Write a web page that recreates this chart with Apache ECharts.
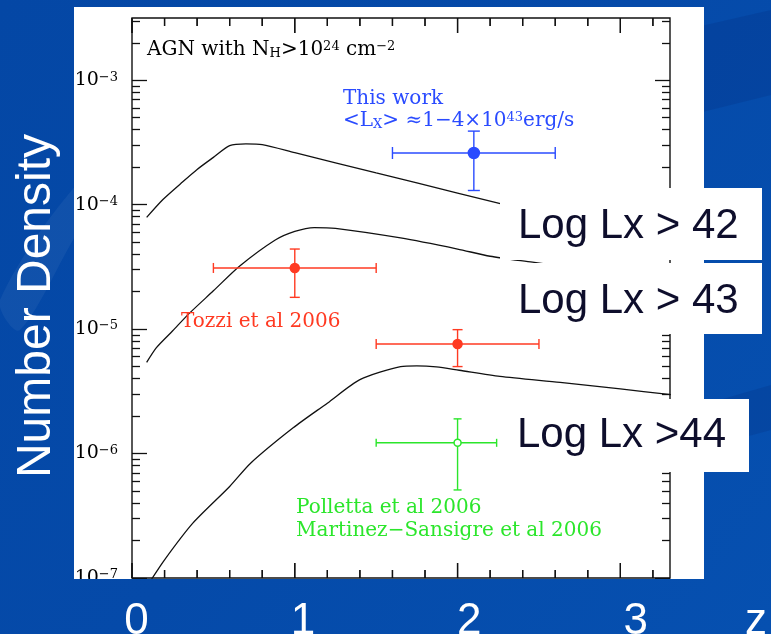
<!DOCTYPE html>
<html>
<head>
<meta charset="utf-8">
<title>AGN with NH &gt; 10^24 cm^-2 — number density vs redshift</title>
<script src="https://cdn.jsdelivr.net/npm/echarts@6/dist/echarts.min.js"></script>
<style>
  html, body { margin: 0; padding: 0; background: #0548a6; }
  #chart { width: 771px; height: 634px; }
</style>
</head>
<body>
<div id="chart"></div>
<script>
// ---- Model curves: space density of Compton-thick AGN against redshift ----
const curve42Z = [0.09, 0.19, 0.30, 0.40, 0.50, 0.60, 0.70, 0.80, 1.00, 1.50, 2.00, 2.50, 3.00, 3.31];
const curve42N = [7.9e-5, 1.10e-4, 1.48e-4, 1.92e-4, 2.40e-4, 2.98e-4, 3.08e-4, 3.04e-4, 2.62e-4, 1.80e-4, 1.24e-4, 8.5e-5, 5.8e-5, 4.6e-5];

const curve43Z = [0.09, 0.15, 0.25, 0.355, 0.50, 0.66, 0.88, 1.00, 1.12, 1.25, 1.65, 2.00, 2.20, 2.46, 3.00, 3.31];
const curve43N = [5.4e-6, 7.1e-6, 9.7e-6, 1.35e-5, 2.03e-5, 3.2e-5, 5.2e-5, 6.1e-5, 6.55e-5, 6.45e-5, 5.4e-5, 4.4e-5, 3.85e-5, 3.45e-5, 2.75e-5, 2.4e-5];

const curve44Z = [0.10, 0.20, 0.375, 0.60, 0.73, 0.99, 1.20, 1.40, 1.65, 1.75, 1.87, 2.01, 2.26, 2.63, 3.00, 3.31];
const curve44N = [8.9e-8, 1.40e-7, 2.77e-7, 5.44e-7, 8.4e-7, 1.61e-6, 2.54e-6, 3.93e-6, 5.0e-6, 5.07e-6, 4.97e-6, 4.67e-6, 4.17e-6, 3.73e-6, 3.31e-6, 2.97e-6];

// ---- Measurements: [z, density, zLow, zHigh, densityLow, densityHigh] ----
const thisWork  = [[2.10, 2.6e-4, 1.60, 2.60, 1.3e-4, 3.9e-4]];
const tozzi2006 = [[1.00, 3.1e-5, 0.50, 1.50, 1.8e-5, 4.4e-5],
                   [2.00, 7.6e-6, 1.50, 2.50, 5.0e-6, 9.9e-6]];
const polletta2006 = [[2.00, 1.22e-6, 1.50, 2.24, 5.1e-7, 1.9e-6]];

// ---- Axes ----
const zMin = 0, zMax = 3.305;
const nMin = 1e-7, nMax = Math.pow(10, -2.5);
const zMajorTicks = [0, 1, 2, 3];
const zMinorTicks = [0.2, 0.4, 0.6, 0.8, 1.2, 1.4, 1.6, 1.8, 2.2, 2.4, 2.6, 2.8, 3.2];
const nDecades = [-7, -6, -5, -4, -3];
const nMinorMultipliers = [2, 3, 4, 5, 6, 7, 8, 9];
const zSlideLabels = ['0', '1', '2', '3'];
const lxLabels = ['Log Lx > 42', 'Log Lx > 43', 'Log Lx >44'];

const BLUE = '#2a4bff', RED = '#ff3a22', GREEN = '#2be62b', INK = '#111';
const SERIF = "'DejaVu Serif', serif";
const SANS = "'Liberation Sans', Arial, sans-serif";

// density tick positions, expressed as log10 for the tick-only axes
const logMin = Math.log10(nMin), logMax = Math.log10(nMax);
const nMajorLog = nDecades.slice();
const nMinorLog = [];
nDecades.concat([-2]).forEach(d => nMinorMultipliers.forEach(k => {
  const v = Math.log10(k) + d;
  if (v > logMin && v < logMax) nMinorLog.push(v);
}));

function errorBarRenderer(color, filled, radius, cap) {
  return function (params, api) {
    const c = api.coord([api.value(0), api.value(1)]);
    const xl = api.coord([api.value(2), api.value(1)])[0];
    const xr = api.coord([api.value(3), api.value(1)])[0];
    const yb = api.coord([api.value(0), api.value(4)])[1];
    const yt = api.coord([api.value(0), api.value(5)])[1];
    const st = { stroke: color, lineWidth: 1.4 };
    const seg = (x1, y1, x2, y2) => ({ type: 'line', shape: { x1, y1, x2, y2 }, style: st });
    return { type: 'group', children: [
      seg(xl, c[1], xr, c[1]),
      seg(c[0], yt, c[0], yb),
      seg(xl, c[1] - cap, xl, c[1] + cap),
      seg(xr, c[1] - cap, xr, c[1] + cap),
      seg(c[0] - cap, yt, c[0] + cap, yt),
      seg(c[0] - cap, yb, c[0] + cap, yb),
      { type: 'circle', shape: { cx: c[0], cy: c[1], r: radius },
        style: { fill: filled ? color : '#fff', stroke: color, lineWidth: 1.5 } }
    ] };
  };
}

// redshift ticks as thin filled bars on the bottom and top frame edges
function zTickRenderer(len) {
  return function (params, api) {
    const lo = api.coord([zMin, nMin]);
    const hi = api.coord([zMax, nMax]);
    const px = api.coord([api.value(0), nMin])[0];
    return { type: 'group', children: [
      { type: 'rect', shape: { x: px - 0.65, y: lo[1] - len, width: 1.3, height: len }, style: { fill: INK } },
      { type: 'rect', shape: { x: px - 0.65, y: hi[1], width: 1.3, height: len }, style: { fill: INK } }
    ] };
  };
}

// an axis that only draws inward ticks at the given values
function tickAxis(base, position, values, length) {
  return Object.assign({}, base, {
    position, offset: 0, z: 40,
    axisLine: { show: false, onZero: false }, axisLabel: { show: false }, splitLine: { show: false },
    axisTick: { show: true, inside: true, length, customValues: values,
                lineStyle: { color: INK, width: 1.3 } }
  });
}
const logBase = { type: 'value', min: logMin, max: logMax };

const pairs = (zs, ns) => zs.map((z, i) => [z, ns[i]]);
const curveStyle = { color: INK, width: 1.3 };

const bgGradient = new echarts.graphic.LinearGradient(0, 0, 771, 634, [
  { offset: 0, color: '#0447a5' },
  { offset: 0.5, color: '#054aa9' },
  { offset: 1, color: '#0650b0' }
], true);

const slideGraphics = [
  // slide background with soft swooshes, and the white plot panel
  { type: 'rect', z: -100, silent: true, shape: { x: 0, y: 0, width: 771, height: 634 }, style: { fill: bgGradient } },
  { type: 'polygon', z: -99, silent: true,
    shape: { points: [[0, 300], [90, 170], [200, 95], [300, 60], [300, 80], [190, 125], [90, 215], [20, 330]], smooth: 0.3 },
    style: { fill: 'rgba(255,255,255,0.05)' } },
  { type: 'polygon', z: -99, silent: true,
    shape: { points: [[640, 40], [771, 10], [771, 95], [650, 125]] },
    style: { fill: 'rgba(0,20,80,0.12)' } },
  { type: 'polygon', z: -99, silent: true,
    shape: { points: [[650, 420], [771, 385], [771, 430], [660, 460]] },
    style: { fill: 'rgba(0,20,80,0.12)' } },
  { type: 'rect', z: -90, silent: true, shape: { x: 74, y: 7, width: 630, height: 572 }, style: { fill: '#fff' } },

  // annotations inside the plot
  { type: 'text', z: 10, x: 147, y: 50, style: {
      text: '{n|AGN with N}{sub|H}{n|>10}{sup|24}{n| cm}{sup|−2}', verticalAlign: 'middle',
      rich: {
        n: { fontFamily: SERIF, fontSize: 20, fill: '#000' },
        sub: { fontFamily: SERIF, fontSize: 13, fill: '#000', verticalAlign: 'bottom' },
        sup: { fontFamily: SERIF, fontSize: 13, fill: '#000', verticalAlign: 'top' }
      } } },
  { type: 'text', z: 10, x: 343, y: 99, style: {
      text: 'This work', fontFamily: SERIF, fontSize: 20, fill: BLUE, verticalAlign: 'middle' } },
  { type: 'text', z: 10, x: 343, y: 121, style: {
      text: '{n|<L}{sub|X}{n|> ≈1−4×10}{sup|43}{n|erg/s}', verticalAlign: 'middle',
      rich: {
        n: { fontFamily: SERIF, fontSize: 20, fill: BLUE },
        sub: { fontFamily: SERIF, fontSize: 13, fill: BLUE, verticalAlign: 'bottom' },
        sup: { fontFamily: SERIF, fontSize: 13, fill: BLUE, verticalAlign: 'top' }
      } } },
  { type: 'text', z: 10, x: 181, y: 322, style: {
      text: 'Tozzi et al 2006', fontFamily: SERIF, fontSize: 20, fill: RED, verticalAlign: 'middle' } },
  { type: 'text', z: 10, x: 296, y: 508, style: {
      text: 'Polletta et al 2006', fontFamily: SERIF, fontSize: 20, fill: GREEN, verticalAlign: 'middle' } },
  { type: 'text', z: 10, x: 296, y: 531, style: {
      text: 'Martinez−Sansigre et al 2006', fontFamily: SERIF, fontSize: 20, fill: GREEN, verticalAlign: 'middle' } },

  // luminosity-cut captions
  { type: 'rect', z: 50, silent: true, shape: { x: 500, y: 188, width: 262, height: 72 }, style: { fill: '#fff' } },
  { type: 'text', z: 51, x: 518, y: 226, style: { text: lxLabels[0], fontFamily: SANS, fontSize: 42, fill: '#0e0e2c', verticalAlign: 'middle' } },
  { type: 'rect', z: 50, silent: true, shape: { x: 500, y: 263, width: 262, height: 71 }, style: { fill: '#fff' } },
  { type: 'text', z: 51, x: 518, y: 301, style: { text: lxLabels[1], fontFamily: SANS, fontSize: 42, fill: '#0e0e2c', verticalAlign: 'middle' } },
  { type: 'rect', z: 50, silent: true, shape: { x: 500, y: 399, width: 249, height: 73 }, style: { fill: '#fff' } },
  { type: 'text', z: 51, x: 517, y: 435, style: { text: lxLabels[2], fontFamily: SANS, fontSize: 42, fill: '#0e0e2c', verticalAlign: 'middle' } },

  // lower slide band over the panel edge
  { type: 'rect', z: 60, silent: true, shape: { x: 0, y: 579, width: 771, height: 55 }, style: { fill: bgGradient } },

  // axis title on the slide
  { type: 'text', z: 61, x: 37, y: 306, rotation: Math.PI / 2, style: {
      text: 'Number Density', fontFamily: SANS, fontSize: 48, fill: '#fff', align: 'center', verticalAlign: 'middle' } }
];

const chart = echarts.init(document.getElementById('chart'), null, { renderer: 'canvas' });

chart.setOption({
  animation: false,
  grid: { left: 132, right: 101, top: 18, bottom: 56, show: true, outerBoundsMode: 'none',
          containLabel: false, borderColor: INK, borderWidth: 1.4, backgroundColor: 'transparent' },
  xAxis: [
    { type: 'value', min: zMin, max: zMax, position: 'bottom',
      axisLine: { show: false, onZero: false }, axisTick: { show: false },
      axisLabel: { show: false }, splitLine: { show: false } },
    { type: 'value', position: 'bottom', offset: 0, min: 0, max: 3.233, interval: 1, z: 62,
      axisLine: { show: false, onZero: false }, axisTick: { show: false }, splitLine: { show: false },
      axisLabel: {
        color: '#fff', fontSize: 44, fontFamily: SANS, margin: 22, padding: [0, 0, 0, 9],
        formatter: v => { const i = zMajorTicks.indexOf(v); return i >= 0 ? zSlideLabels[i] : ''; }
      },
      name: 'z', nameLocation: 'end', nameGap: 75,
      nameTextStyle: { color: '#fff', fontSize: 44, fontFamily: SANS, verticalAlign: 'top', padding: [22, 0, 0, 0] }
    }
  ],
  yAxis: [
    { type: 'log', logBase: 10, min: nMin, max: nMax,
      axisLine: { show: false, onZero: false }, axisTick: { show: false }, splitLine: { show: false },
      minorTick: { show: false },
      axisLabel: {
        margin: 14,
        formatter: v => {
          const e = Math.log10(v), r = Math.round(e);
          if (Math.abs(e - r) > 1e-6 || nDecades.indexOf(r) < 0) return '';
          return '{b|10}{s|−' + (-r) + '}';
        },
        rich: {
          b: { fontFamily: SERIF, fontSize: 19, color: '#000' },
          s: { fontFamily: SERIF, fontSize: 13, color: '#000', verticalAlign: 'top' }
        }
      }
    },
    tickAxis(logBase, 'left', nMajorLog, 15),
    tickAxis(logBase, 'left', nMinorLog, 8),
    tickAxis(logBase, 'right', nMajorLog, 15),
    tickAxis(logBase, 'right', nMinorLog, 8)
  ],
  series: [
    { type: 'line', name: 'Log Lx > 42', xAxisIndex: 0, yAxisIndex: 0, data: pairs(curve42Z, curve42N),
      showSymbol: false, lineStyle: curveStyle, smooth: 0.25, z: 2 },
    { type: 'line', name: 'Log Lx > 43', xAxisIndex: 0, yAxisIndex: 0, data: pairs(curve43Z, curve43N),
      showSymbol: false, lineStyle: curveStyle, smooth: 0.25, z: 2 },
    { type: 'line', name: 'Log Lx > 44', xAxisIndex: 0, yAxisIndex: 0, data: pairs(curve44Z, curve44N),
      showSymbol: false, lineStyle: curveStyle, smooth: 0.25, z: 2 },
    { type: 'custom', name: 'This work', xAxisIndex: 0, yAxisIndex: 0, z: 5,
      renderItem: errorBarRenderer(BLUE, true, 5.5, 6), data: thisWork, encode: { x: [0, 2, 3], y: [1, 4, 5] } },
    { type: 'custom', name: 'Tozzi et al 2006', xAxisIndex: 0, yAxisIndex: 0, z: 5,
      renderItem: errorBarRenderer(RED, true, 4.5, 5), data: tozzi2006, encode: { x: [0, 2, 3], y: [1, 4, 5] } },
    { type: 'custom', name: 'Polletta et al 2006', xAxisIndex: 0, yAxisIndex: 0, z: 5,
      renderItem: errorBarRenderer(GREEN, false, 3.5, 4), data: polletta2006, encode: { x: [0, 2, 3], y: [1, 4, 5] } },
    { type: 'custom', name: 'z major ticks', xAxisIndex: 0, yAxisIndex: 0, z: 45,
      renderItem: zTickRenderer(15), data: zMajorTicks.map(v => [v]), encode: { x: [0] } },
    { type: 'custom', name: 'z minor ticks', xAxisIndex: 0, yAxisIndex: 0, z: 45,
      renderItem: zTickRenderer(8), data: zMinorTicks.map(v => [v]), encode: { x: [0] } }
  ],
  graphic: slideGraphics
});

// the same redshift ticks placed through the axis scale as plain graphics
const frameBottom = chart.convertToPixel({ yAxisIndex: 0 }, nMin);
const frameTop = chart.convertToPixel({ yAxisIndex: 0 }, nMax);
const zTickGraphics = [];
[[zMajorTicks, 15], [zMinorTicks, 8]].forEach(([values, len]) => values.forEach(v => {
  const px = chart.convertToPixel({ xAxisIndex: 0 }, v);
  if (!isFinite(px) || !isFinite(frameBottom) || !isFinite(frameTop)) return;
  zTickGraphics.push({ type: 'rect', z: 58, silent: true,
    shape: { x: px - 0.65, y: frameBottom - len, width: 1.3, height: len }, style: { fill: INK } });
  zTickGraphics.push({ type: 'rect', z: 58, silent: true,
    shape: { x: px - 0.65, y: frameTop, width: 1.3, height: len }, style: { fill: INK } });
}));
chart.setOption({ graphic: slideGraphics.concat(zTickGraphics) }, { replaceMerge: ['graphic'] });
</script>
</body>
</html>
